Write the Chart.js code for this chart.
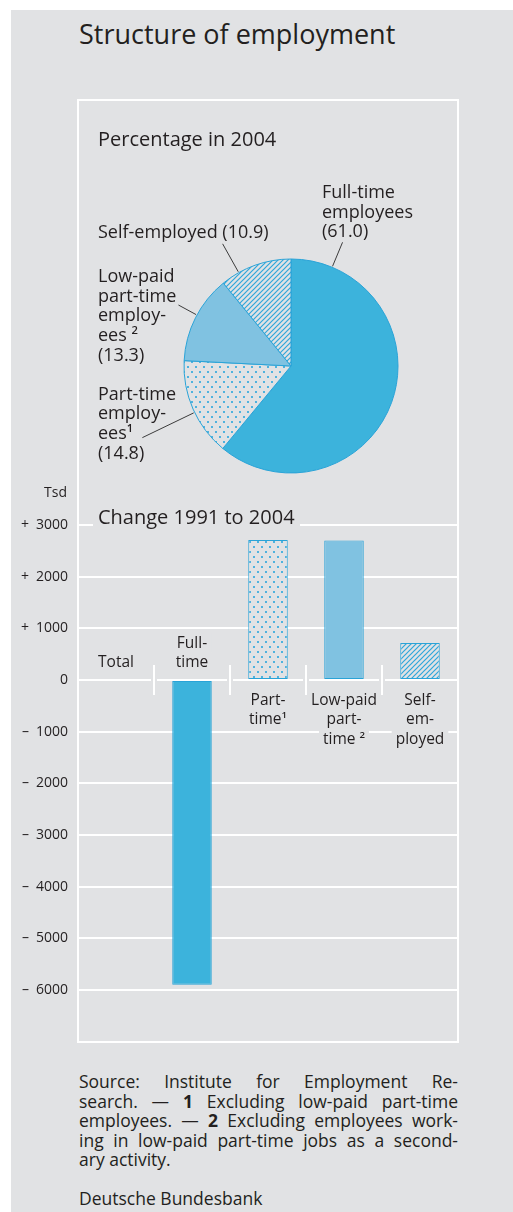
<!DOCTYPE html>
<html>
<head>
<meta charset="utf-8">
<script src="https://cdn.jsdelivr.net/npm/chart.js@4.4.1/dist/chart.umd.min.js"></script>
<style>
  body { margin: 0; width: 513px; height: 1212px; background: #fff; font-family: "Open Sans", sans-serif; color: #231f20; overflow: hidden; position: relative; }
  #panel { position: absolute; left: 11px; top: 10px; width: 502px; height: 1202px; background: #e1e2e4; }
  #frame { position: absolute; left: 77px; top: 99px; width: 378px; height: 940px; border: 2px solid #fff; }
  .box { position: absolute; }
  .txt { position: absolute; white-space: nowrap; }
  #title { left: 79px; top: 20px; font-size: 27px; line-height: 27px; }
  #pieTitle { left: 98px; top: 129px; font-size: 20px; line-height: 20px; }
  #barTitle { left: 93px; top: 507px; font-size: 20px; line-height: 20px; padding: 0 5px; background: #e1e2e4; }
  #unit { right: 446px; top: 485px; font-size: 14px; line-height: 14px; }
  #note { position: absolute; left: 79px; top: 1072px; width: 379px; font-size: 17.5px; line-height: 19.5px; }
  #note div { text-align: justify; text-align-last: justify; }
  #note div.last { text-align: left; text-align-last: left; }
</style>
</head>
<body>
<div id="panel"></div>
<div id="frame"></div>
<div class="box" style="left:78px;top:100px;width:380px;height:390px"><canvas id="pieChart" width="380" height="390"></canvas></div>
<div class="box" style="left:0;top:470px;width:513px;height:590px"><canvas id="barChart" width="513" height="590"></canvas></div>
<div id="title" class="txt">Structure of employment</div>
<div id="pieTitle" class="txt">Percentage in 2004</div>
<div id="barTitle" class="txt">Change 1991 to 2004</div>
<div id="unit" class="txt">Tsd</div>
<div id="note">
  <div>Source: Institute for Employment Re-</div>
  <div>search. — <b>1</b> Excluding low-paid part-time</div>
  <div>employees. — <b>2</b> Excluding employees work-</div>
  <div>ing in low-paid part-time jobs as a second-</div>
  <div class="last">ary activity.</div>
  <div class="last">&nbsp;</div>
  <div class="last">Deutsche Bundesbank</div>
</div>
<script>
// percentage in 2004
const pieLabels = ["Full-time employees", "Part-time employees", "Low-paid part-time employees", "Self-employed"];
const pieValues = [61.0, 14.8, 13.3, 10.9];
const pieLabelLines = [
  ["Full-time", "employees"],
  ["Part-time", "employ-", "ees^1"],
  ["Low-paid", "part-time", "employ-", "ees ^2"],
  ["Self-employed"]
];

// change 1991 to 2004, thousands
const barCategories = ["Total", "Full-time", "Part-time", "Low-paid part-time", "Self-employed"];
const barValues = [0, -5900, 2710, 2700, 715];
const barLabelLines = [
  ["Total"],
  ["Full-", "time"],
  ["Part-", "time^1"],
  ["Low-paid", "part-", "time ^2"],
  ["Self-", "em-", "ployed"]
];
const yMin = -7000;
const yMax = 3000;
const yStep = 1000;

const bg = "#e1e2e4";
const ink = "#231f20";
const blue = "#3cb3dc";
const lightBlue = "#80c2e1";
const edge = "#2aa3d7";
const font = '"Open Sans", sans-serif';

function dotPattern() {
  const c = document.createElement("canvas");
  c.width = 8; c.height = 10;
  const g = c.getContext("2d");
  g.fillStyle = bg; g.fillRect(0, 0, 8, 10);
  g.fillStyle = "#4fb2de";
  g.fillRect(1, 1, 2, 2);
  g.fillRect(5, 6, 2, 2);
  return g.createPattern(c, "repeat");
}

function hatchPattern() {
  const c = document.createElement("canvas");
  c.width = 5; c.height = 5;
  const g = c.getContext("2d");
  g.fillStyle = bg; g.fillRect(0, 0, 5, 5);
  g.strokeStyle = "#2ea6da"; g.lineWidth = 1.2;
  g.beginPath();
  g.moveTo(-1, 6); g.lineTo(6, -1);
  g.moveTo(-1, 1); g.lineTo(1, -1);
  g.moveTo(4, 6); g.lineTo(6, 4);
  g.stroke();
  return g.createPattern(c, "repeat");
}

const dots = dotPattern();
const hatch = hatchPattern();

// text with an optional ^superscript part
function richWidth(ctx, text, size) {
  const [main, sup] = text.split("^");
  ctx.font = size + "px " + font;
  let w = ctx.measureText(main).width;
  if (sup) { ctx.font = (size * 0.62) + "px " + font; w += ctx.measureText(sup).width; }
  return w;
}
function drawRich(ctx, text, x, base, size) {
  const [main, sup] = text.split("^");
  ctx.textAlign = "left";
  ctx.textBaseline = "alphabetic";
  ctx.font = size + "px " + font;
  ctx.fillText(main, x, base);
  if (sup) {
    const w = ctx.measureText(main).width;
    ctx.font = "600 " + (size * 0.62) + "px " + font;
    ctx.fillText(sup, x + w, base - size * 0.38);
  }
}

// leader line spots: fraction along the slice, outer length; label anchor
const pieLeaders = [
  { f: 0.103, r2: 134, x: 244, y: 98 },
  { f: 0.463, r2: 165, x: 20, y: 299.5 },
  { f: 0.534, r2: 128, x: 20, y: 182 },
  { f: 0.255, r2: 140, x: 20, y: 138 }
];

const pieNotes = {
  id: "pieNotes",
  afterDraw(chart) {
    const ctx = chart.ctx;
    const arcs = chart.getDatasetMeta(0).data;
    ctx.save();
    arcs.forEach((arc, i) => {
      const lead = pieLeaders[i];
      const a = arc.startAngle + lead.f * (arc.endAngle - arc.startAngle);
      const r1 = arc.outerRadius + 1;
      ctx.strokeStyle = "#3b3b3b";
      ctx.lineWidth = 1;
      ctx.beginPath();
      ctx.moveTo(arc.x + r1 * Math.cos(a), arc.y + r1 * Math.sin(a));
      ctx.lineTo(arc.x + lead.r2 * Math.cos(a), arc.y + lead.r2 * Math.sin(a));
      ctx.stroke();

      ctx.fillStyle = ink;
      const lines = pieLabelLines[i].slice();
      const val = "(" + pieValues[i].toFixed(1) + ")";
      if (lines.length === 1) lines[0] = lines[0] + " " + val;
      else lines.push(val);
      lines.forEach((ln, j) => drawRich(ctx, ln, lead.x, lead.y + j * 19.7, 18));
    });
    ctx.restore();
  }
};

new Chart(document.getElementById("pieChart"), {
  type: "pie",
  data: {
    labels: pieLabels,
    datasets: [{
      data: pieValues,
      backgroundColor: [blue, dots, lightBlue, hatch],
      borderColor: edge,
      borderWidth: 1,
      radius: 107
    }]
  },
  options: {
    responsive: false,
    animation: false,
    layout: { padding: { left: 106, right: 60, top: 159, bottom: 17 } },
    plugins: { legend: { display: false }, tooltip: { enabled: false } }
  },
  plugins: [pieNotes]
});

const barNotes = {
  id: "barNotes",
  afterDatasetsDraw(chart) {
    const { ctx, scales: { x, y } } = chart;
    const y0 = y.getPixelForValue(0);
    ctx.save();
    for (let i = 0; i < barCategories.length - 1; i++) {
      const sx = Math.round((x.getPixelForValue(i) + x.getPixelForValue(i + 1)) / 2);
      ctx.fillStyle = bg;
      ctx.fillRect(sx - 3, y0 - 2, 6, 4);
      ctx.fillStyle = "#fff";
      ctx.fillRect(sx - 1, y0 - 15, 2, 30);
    }
    const size = 15.5, lh = 19.4;
    barLabelLines.forEach((lines, i) => {
      const cx = x.getPixelForValue(i);
      const below = barValues[i] > 0;
      lines.forEach((ln, j) => {
        const base = below ? y0 + 25 + j * lh : y0 - 13 - (lines.length - 1 - j) * lh;
        const w = richWidth(ctx, ln, size);
        ctx.fillStyle = bg;
        ctx.fillRect(cx - w / 2 - 4, base - 14, w + 8, 19);
        ctx.fillStyle = ink;
        drawRich(ctx, ln, cx - w / 2, base, size);
      });
    });
    ctx.restore();
  }
};

new Chart(document.getElementById("barChart"), {
  type: "bar",
  data: {
    labels: barCategories,
    datasets: [{
      data: barValues,
      backgroundColor: [blue, blue, dots, lightBlue, hatch],
      borderColor: edge,
      borderWidth: 1,
      borderSkipped: false,
      categoryPercentage: 0.52,
      barPercentage: 1
    }]
  },
  options: {
    responsive: false,
    animation: false,
    layout: { padding: { left: 0, right: 55, top: 55, bottom: 17 } },
    scales: {
      x: { display: false },
      y: {
        min: yMin,
        max: yMax,
        afterFit(scale) { scale.width = 78; },
        border: { display: false },
        grid: { color: "#fff", lineWidth: 2, drawTicks: false },
        ticks: {
          stepSize: yStep,
          padding: 10,
          color: ink,
          font: { family: "Open Sans", size: 14 },
          callback: (v) => {
            if (v === yMin) return "";
            if (v > 0) return "+\u2002" + v;
            if (v < 0) return "\u2013\u2002" + (-v);
            return "0";
          }
        }
      }
    },
    plugins: { legend: { display: false }, tooltip: { enabled: false } }
  },
  plugins: [barNotes]
});
</script>
</body>
</html>
